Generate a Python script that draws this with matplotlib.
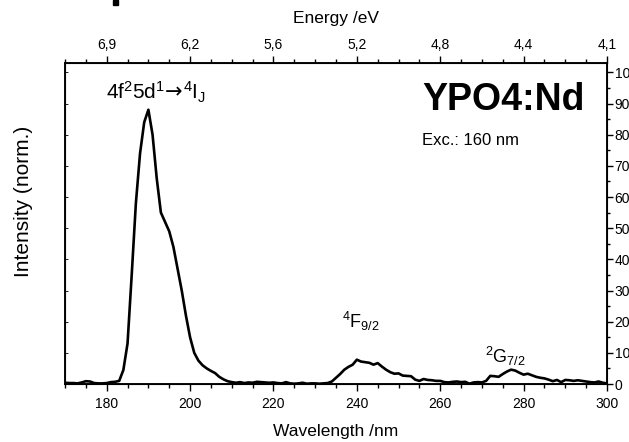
import matplotlib
matplotlib.use("Agg")
import matplotlib.pyplot as plt
from matplotlib.ticker import MultipleLocator, FixedLocator
from matplotlib.patches import Rectangle

plt.rcParams['font.family'] = ['Liberation Sans', 'DejaVu Sans']
plt.rcParams['mathtext.fontset'] = 'custom'
plt.rcParams['mathtext.rm'] = 'Liberation Sans'
plt.rcParams['mathtext.it'] = 'Liberation Sans:italic'
plt.rcParams['mathtext.bf'] = 'Liberation Sans:bold'
plt.rcParams['mathtext.sf'] = 'DejaVu Sans'

# ---- data ----
wavelength_nm = list(range(170, 301))
intensity = [
    0.4, 0.3, 0.3, 0.2, 0.5, 0.9, 0.8, 0.3, 0.2, 0.2,      # 170-179
    0.3, 0.6, 0.7, 1.0, 4.5, 13, 35, 58, 74, 84,           # 180-189
    88, 80, 66, 55, 52, 49, 44, 37, 30, 22,                # 190-199
    15, 10, 7.5, 6, 5, 4.2, 3.5, 2.3, 1.5, 0.9,            # 200-209
    0.6, 0.4, 0.6, 0.3, 0.5, 0.4, 0.7, 0.6, 0.5, 0.4,      # 210-219
    0.5, 0.3, 0.2, 0.6, 0.2, 0.1, 0.2, 0.4, 0.1, 0.2,      # 220-229
    0.2, 0.1, 0.2, 0.3, 0.8, 2.0, 3.2, 4.6, 5.5, 6.2,      # 230-239
    7.8, 7.2, 7.0, 6.8, 6.2, 6.7, 5.6, 4.6, 3.8, 3.3,      # 240-249
    3.4, 2.7, 2.6, 2.5, 1.4, 1.0, 1.6, 1.3, 1.2, 1.0,      # 250-259
    1.0, 0.6, 0.5, 0.7, 0.8, 0.6, 0.7, 0.1, 0.5, 0.6,      # 260-269
    0.5, 1.0, 2.6, 2.5, 2.3, 3.2, 4.0, 4.6, 4.3, 3.6,      # 270-279
    3.0, 3.3, 2.8, 2.3, 2.0, 1.8, 1.4, 0.9, 1.3, 0.6,      # 280-289
    1.3, 1.2, 1.0, 1.2, 1.0, 0.8, 0.6, 0.5, 0.8, 0.4,      # 290-299
    0.2,                                                   # 300
]
bottom_ticks = [180, 200, 220, 240, 260, 280, 300]
top_tick_nm = [180, 200, 220, 240, 260, 280, 300]
top_tick_labels = ['6,9', '6,2', '5,6', '5,2', '4,8', '4,4', '4,1']
right_ticks = [0, 10, 20, 30, 40, 50, 60, 70, 80, 90, 100]

# ---- figure ----
fig = plt.figure(figsize=(6.29, 4.42), dpi=100)
ax = fig.add_axes([65/629, 1-384/442, (607-65)/629, (384-63)/442])

ax.plot(wavelength_nm, intensity, color='black', lw=1.9)
ax.set_xlim(170, 300)
ax.set_ylim(0, 103)

for s in ax.spines.values():
    s.set_linewidth(1.1)

ax.set_xticks(bottom_ticks)
ax.xaxis.set_minor_locator(MultipleLocator(5))
ax.tick_params(axis='x', which='major', direction='out', length=5, width=1.0,
               labelsize=10, pad=4)
ax.tick_params(axis='x', which='minor', direction='out', length=3, width=1.0)
ax.set_xlabel('Wavelength /nm', fontsize=12.5, labelpad=10)

# left spine: tiny inward ticks, no labels
ax.yaxis.set_major_locator(FixedLocator(right_ticks))
ax.tick_params(axis='y', which='major', direction='in', length=2, width=0.6,
               labelleft=False)

# right axis
axr = ax.twinx()
axr.set_ylim(ax.get_ylim())
axr.set_yticks(right_ticks)
axr.yaxis.set_minor_locator(MultipleLocator(5))
axr.tick_params(axis='y', which='major', direction='out', length=4, width=1.0,
                labelsize=10, pad=1.5)
axr.tick_params(axis='y', which='minor', direction='out', length=2.5, width=1.0)
for s in axr.spines.values():
    s.set_linewidth(1.1)

# top axis (energy)
axt = ax.twiny()
axt.set_xlim(ax.get_xlim())
axt.set_xticks(top_tick_nm)
axt.set_xticklabels(top_tick_labels)
axt.xaxis.set_minor_locator(MultipleLocator(5))
axt.tick_params(axis='x', which='major', direction='out', length=5, width=1.0,
                labelsize=10, pad=3)
axt.tick_params(axis='x', which='minor', direction='out', length=3, width=1.0)
axt.set_xlabel('Energy /eV', fontsize=12.5, labelpad=11)

fig.text(24/629, 1-201/442, 'Intensity (norm.)', rotation=90, fontsize=15,
         ha='center', va='center')

# annotations
ax.text(0.076, 0.885,
        r'4f$^2$5d$^1$$\!\mathsf{\rightarrow}\!$$^4$I$_\mathregular{J}$',
        transform=ax.transAxes, fontsize=15, ha='left', va='baseline')
ax.text(0.959, 0.853, 'YPO4:Nd', transform=ax.transAxes, fontsize=27,
        fontweight='bold', ha='right', va='baseline')
ax.text(0.659, 0.745, 'Exc.: 160 nm', transform=ax.transAxes, fontsize=12,
        ha='left', va='baseline')
ax.text(0.511, 0.174, r'$^4$F$_\mathregular{9/2}$', transform=ax.transAxes,
        fontsize=13, ha='left', va='baseline')
ax.text(0.775, 0.065, r'$^2$G$_\mathregular{7/2}$', transform=ax.transAxes,
        fontsize=13, ha='left', va='baseline')

# cropped fragment at the top edge
fig.patches.append(Rectangle((113/629, 1-5/442), 5/629, 5/442,
                             transform=fig.transFigure, color='black'))

fig.savefig('out.png', dpi=100)
